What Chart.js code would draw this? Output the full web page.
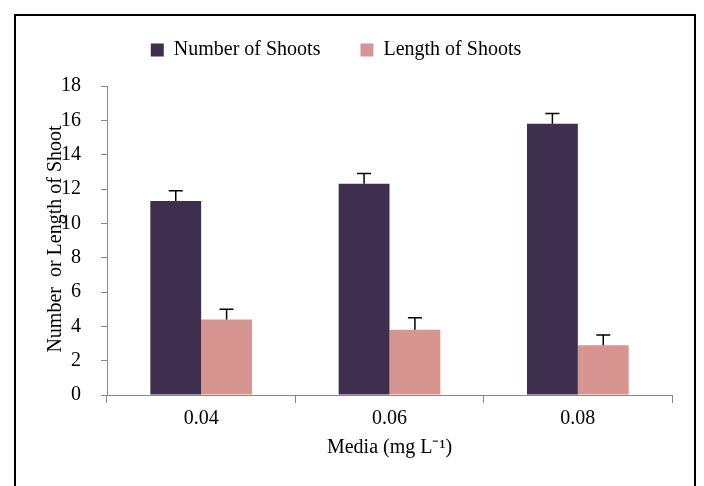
<!DOCTYPE html>
<html><head><meta charset="utf-8">
<script src="https://cdn.jsdelivr.net/npm/chart.js@4"></script>
<style>
html,body{margin:0;padding:0;background:#fff;}
#wrap{position:relative;width:704px;height:486px;}
#frame{position:absolute;left:14px;top:14px;width:682px;height:490px;border:2px solid #000;box-sizing:border-box;pointer-events:none;}
</style></head><body>
<div id="wrap"><canvas id="c" width="704" height="486"></canvas><div id="frame"></div></div>
<script>
const categories = ["0.04","0.06","0.08"];
const numberOfShoots = [11.3, 12.3, 15.8];
const numberErr = [0.6, 0.6, 0.6];
const lengthOfShoots = [4.4, 3.8, 2.9];
const lengthErr = [0.6, 0.7, 0.6];
const yTicks = [0,2,4,6,8,10,12,14,16,18];
const FONT = "'Liberation Serif','Times New Roman',serif";

const errs = [numberErr, lengthErr];
const errorBars = {
  id:'errorBars',
  afterDatasetsDraw(chart){
    const ctx = chart.ctx, y = chart.scales.y;
    chart.data.datasets.forEach((ds,i)=>{
      chart.getDatasetMeta(i).data.forEach((bar,j)=>{
        const top = y.getPixelForValue(ds.data[j] + errs[i][j]);
        ctx.save(); ctx.strokeStyle='#000'; ctx.lineWidth=1.5;
        ctx.beginPath(); ctx.moveTo(bar.x, bar.y); ctx.lineTo(bar.x, top);
        ctx.moveTo(bar.x-7, top); ctx.lineTo(bar.x+7, top); ctx.stroke(); ctx.restore();
      });
    });
  }
};
const yTitle = {
  id:'yTitle',
  afterDraw(chart){
    const ctx = chart.ctx;
    ctx.save(); ctx.translate(56, 239); ctx.rotate(-Math.PI/2);
    ctx.font = "20px " + FONT; ctx.fillStyle='#000'; ctx.textAlign='center'; ctx.textBaseline='middle';
    ctx.fillText("Number  or Length of Shoot", 0, 0); ctx.restore();
  }
};
const legendFit = {
  id:'legendFit',
  beforeInit(chart){
    const orig = chart.legend.fit;
    chart.legend.fit = function(){ orig.bind(chart.legend)(); this.height = 86; };
  }
};
new Chart(document.getElementById('c'), {
  type:'bar',
  data:{ labels:categories, datasets:[
    {label:'Number of Shoots', data:numberOfShoots, backgroundColor:'#3f2f4f', categoryPercentage:0.54, barPercentage:1},
    {label:'Length of Shoots', data:lengthOfShoots, backgroundColor:'#d79592', categoryPercentage:0.54, barPercentage:1}
  ]},
  options:{
    responsive:false, animation:false,
    layout:{padding:{top:0,right:32,left:0,bottom:26}},
    plugins:{
      legend:{labels:{font:{family:FONT,size:20},color:'#000',boxWidth:13,boxHeight:13,padding:40}},
      tooltip:{enabled:false}
    },
    scales:{
      x:{
        grid:{display:true,drawOnChartArea:false,color:'#888',tickLength:8,offset:true},
        border:{color:'#888'},
        ticks:{font:{family:FONT,size:20},color:'#000',padding:4},
        title:{display:true,text:'Media (mg L⁻¹)',font:{family:FONT,size:20},color:'#000',padding:{top:4,bottom:0}},
        afterFit(s){ s.height = 65; }
      },
      y:{
        min:0,max:18,
        afterBuildTicks(s){ s.ticks = yTicks.map(v=>({value:v})); },
        grid:{display:true,drawOnChartArea:false,color:'#888',tickLength:6},
        border:{color:'#888'},
        ticks:{font:{family:FONT,size:20},color:'#000',padding:20},
        afterFit(s){ s.width = 107; }
      }
    }
  },
  plugins:[errorBars,yTitle,legendFit]
});
</script></body></html>
